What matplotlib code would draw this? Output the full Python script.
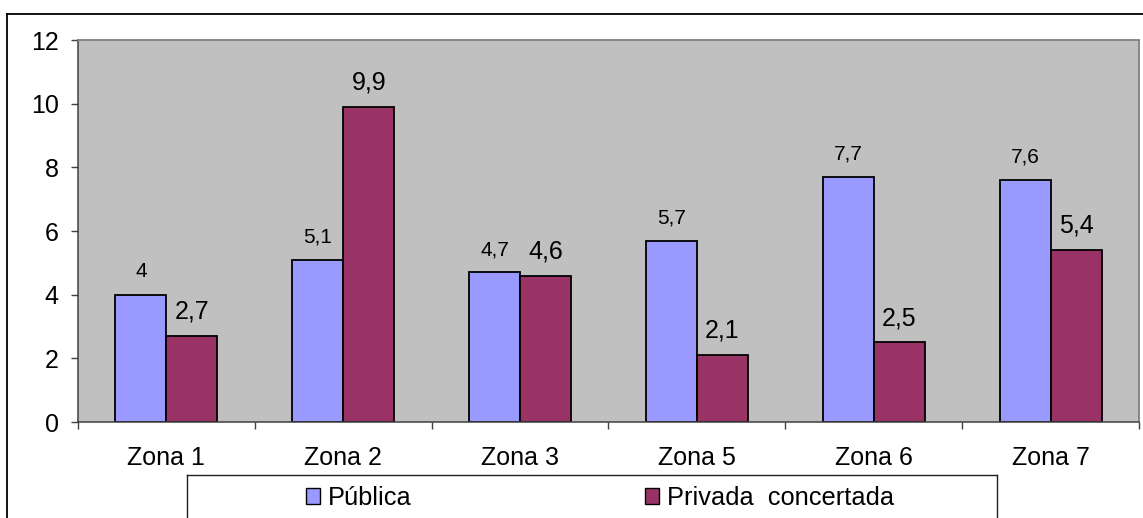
import matplotlib.pyplot as plt
from matplotlib.lines import Line2D
from matplotlib.patches import Patch

zonas = ['Zona 1', 'Zona 2', 'Zona 3', 'Zona 5', 'Zona 6', 'Zona 7']
publica = [4, 5.1, 4.7, 5.7, 7.7, 7.6]
privada = [2.7, 9.9, 4.6, 2.1, 2.5, 5.4]
y_ticks = [0, 2, 4, 6, 8, 10, 12]

plt.rcParams['font.family'] = ['Liberation Sans', 'DejaVu Sans']

W, H = 1143, 518
fig = plt.figure(figsize=(W / 100, H / 100), dpi=100)

# outer chart frame (runs off the right and bottom edges)
fig.add_artist(Line2D([7 / W, 1.01], [1 - 14 / H, 1 - 14 / H], transform=fig.transFigure,
                      color='black', lw=1.3))
fig.add_artist(Line2D([7 / W, 7 / W], [-0.01, 1 - 14 / H], transform=fig.transFigure,
                      color='black', lw=1.3))

# plot area
ax = fig.add_axes([78 / W, 1 - 422 / H, (1139 - 78) / W, (422 - 40) / H])
ax.set_facecolor('#C0C0C0')

x = list(range(len(zonas)))
w = 0.288
blue = ax.bar([i - w / 2 for i in x], publica, width=w, color='#9999FF',
              edgecolor='black', linewidth=1.3, zorder=2)
red = ax.bar([i + w / 2 for i in x], privada, width=w, color='#993366',
             edgecolor='black', linewidth=1.3, zorder=2)

for i, v in enumerate(publica):
    ax.annotate(str(v).replace('.', ','), (i - w / 2, v), xytext=(0, 12.5),
                textcoords='offset points', ha='center', va='baseline', fontsize=15)
for i, v in enumerate(privada):
    ax.annotate(str(v).replace('.', ','), (i + w / 2, v), xytext=(0, 12.5),
                textcoords='offset points', ha='center', va='baseline', fontsize=18)

ax.set_xlim(-0.5, len(zonas) - 0.5)
ax.set_ylim(0, 12)
ax.set_yticks(y_ticks)
ax.set_yticklabels([str(t) for t in y_ticks])
ax.set_xticks(x)
ax.set_xticklabels(zonas)
ax.set_xticks([i - 0.5 for i in range(len(zonas) + 1)], minor=True)
ax.tick_params(axis='x', which='major', length=0, pad=17.5, labelsize=18)
ax.tick_params(axis='x', which='minor', length=5, width=1, color='#404040')
ax.tick_params(axis='y', length=5, width=1, color='#404040', pad=9, labelsize=18)

for side in ['top', 'right']:
    ax.spines[side].set_color('#808080')
    ax.spines[side].set_linewidth(1.3)
for side in ['left', 'bottom']:
    ax.spines[side].set_color('#404040')
    ax.spines[side].set_linewidth(1.1)

# legend box (runs off the bottom edge)
lx0, lx1, ly = 187 / W, 997 / W, 1 - 475 / H
fig.add_artist(Line2D([lx0, lx1], [ly, ly], transform=fig.transFigure, color='#202020', lw=1))
fig.add_artist(Line2D([lx0, lx0], [-0.01, ly], transform=fig.transFigure, color='#202020', lw=1))
fig.add_artist(Line2D([lx1, lx1], [-0.01, ly], transform=fig.transFigure, color='#202020', lw=1))

handles = [Patch(facecolor='#9999FF', edgecolor='black', lw=1),
           Patch(facecolor='#993366', edgecolor='black', lw=1)]
fig.legend(handles, ['Pública', 'Privada  concertada'], ncol=2, frameon=False,
           loc='center left', bbox_to_anchor=(306 / W, 1 - 498 / H),
           borderaxespad=0, borderpad=0, fontsize=18.3,
           handlelength=0.55, handleheight=0.55, handletextpad=0.31, columnspacing=9.2)

fig.savefig('out.png', dpi=100)
